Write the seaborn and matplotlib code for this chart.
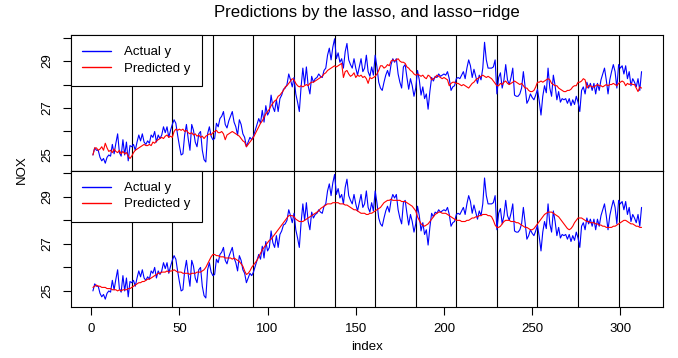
import numpy as np
import pandas as pd
import matplotlib
matplotlib.use("Agg")
import matplotlib.pyplot as plt
from matplotlib.lines import Line2D
import seaborn as sns

# Observed NOX series (index 1..312)
actual_y = [
    25.0, 25.3, 25.2, 25.2, 24.9, 24.75, 24.85, 24.65, 24.9, 25.0, 24.95, 25.45, 25.05, 25.5, 25.9, 25.1, 24.95, 25.65, 25.0, 25.55, 24.75, 25.4, 25.35,
    25.45, 25.2, 25.55, 25.85, 25.6, 25.9, 25.55, 25.45, 25.6, 25.5, 25.85, 25.75, 26.0, 25.55, 25.85, 25.7, 25.85, 26.2, 25.95, 26.2, 25.75, 26.05, 26.3,
    26.5, 26.35, 25.85, 25.4, 25.0, 25.05, 25.85, 26.3, 25.7, 25.2, 26.3, 26.05, 25.55, 25.35, 25.9, 26.0, 25.2, 24.8, 24.7, 25.9, 26.2, 25.8, 25.65,
    25.7, 26.35, 26.2, 26.55, 26.65, 26.85, 26.3, 26.15, 26.45, 26.65, 26.85, 26.4, 26.2, 25.85, 26.5, 26.3, 25.9, 25.75, 25.35, 25.55, 25.75, 25.65, 25.8,
    26.05, 26.3, 26.55, 26.35, 26.9, 26.4, 27.1, 26.7, 26.85, 27.55, 27.05, 26.85, 27.35, 26.85, 27.4, 27.55, 27.8, 27.85, 28.0, 28.45, 28.2, 27.9, 28.3,
    27.6, 27.25, 26.85, 27.9, 28.7, 28.0, 28.75, 27.95, 27.6, 28.35, 28.1, 28.25, 28.3, 28.45, 28.35, 28.3, 28.6, 28.7, 29.25, 29.55, 29.05, 29.6, 29.95,
    29.1, 29.35, 28.95, 29.1, 28.7, 29.4, 29.75, 29.05, 28.85, 28.7, 29.1, 28.7, 28.4, 28.75, 29.1, 28.55, 28.7, 29.25, 28.55, 28.35, 28.75, 28.4, 29.25,
    28.75, 28.1, 27.85, 27.75, 28.1, 28.4, 28.6, 28.35, 28.85, 29.1, 28.95, 29.1, 28.45, 28.1, 27.85, 28.75, 28.85, 28.3, 27.8, 28.25, 27.95, 27.5, 27.85,
    28.6, 28.2, 27.55, 27.9, 27.4, 27.6, 26.95, 27.7, 28.3, 28.15, 28.35, 28.3, 28.45, 28.35, 28.4, 28.45, 28.4, 28.55, 28.25, 27.75, 27.9, 27.95, 28.25,
    28.3, 28.25, 28.4, 28.55, 28.25, 28.7, 29.05, 28.8, 28.3, 28.65, 28.35, 28.05, 28.4, 28.2, 28.7, 29.8, 29.05, 28.7, 28.7, 28.7, 28.75, 29.05, 27.6,
    28.3, 28.5, 27.85, 28.2, 28.85, 28.2, 28.0, 28.3, 28.7, 27.55, 27.5, 27.5, 27.6, 27.85, 28.55, 27.9, 27.2, 27.35, 27.6, 27.45, 27.35, 27.55, 27.8,
    27.3, 26.7, 27.5, 27.95, 27.65, 28.7, 27.85, 27.5, 28.4, 27.95, 27.35, 27.7, 27.25, 27.4, 27.35, 27.4, 27.2, 27.4, 27.1, 27.35, 27.15, 27.5, 27.25,
    26.85, 27.75, 27.9, 27.6, 28.1, 27.85, 28.05, 27.75, 28.05, 27.6, 28.05, 27.75, 28.2, 28.45, 28.7, 28.2, 27.6, 28.2, 28.55, 28.85, 28.55, 27.85, 28.85,
    28.7, 28.8, 28.45, 28.8, 28.25, 28.55, 27.95, 28.25, 28.1, 27.9, 28.25, 27.75, 28.55,
]

# Fitted values from the lasso
pred_lasso = [
    25.0, 25.3, 25.3, 25.2, 25.25, 25.35, 25.2, 25.5, 25.3, 25.15, 25.2, 25.1, 25.25, 25.15, 25.1, 25.2, 25.05, 25.15, 25.05, 25.1, 24.95, 24.85, 24.95,
    25.1, 25.2, 25.25, 25.3, 25.35, 25.4, 25.45, 25.4, 25.4, 25.45, 25.4, 25.55, 25.5, 25.6, 25.65, 25.7, 25.75, 25.7, 25.8, 25.85, 25.75, 25.8, 25.75,
    26.0, 26.1, 26.05, 26.1, 26.05, 26.1, 26.0, 26.05, 25.95, 25.9, 25.95, 25.85, 25.9, 25.8, 25.85, 25.75, 25.8, 25.7, 25.8, 25.85, 25.9, 25.85, 25.95,
    26.0, 26.05, 25.95, 25.95, 26.0, 25.9, 25.65, 25.85, 25.9, 25.95, 26.0, 25.95, 25.9, 25.85, 25.8, 25.7, 25.6, 25.55, 25.35, 25.45, 25.55, 25.65, 25.75,
    25.9, 26.05, 26.2, 26.35, 26.45, 26.6, 26.75, 26.85, 26.95, 27.1, 27.2, 27.3, 27.35, 27.5, 27.55, 27.65, 27.75, 27.9, 27.95, 28.05, 28.15, 28.25, 28.2,
    28.05, 27.95, 27.9, 27.95, 27.9, 27.95, 28.0, 27.95, 28.05, 28.1, 28.1, 28.15, 28.2, 28.25, 28.3, 28.35, 28.45, 28.5, 28.6, 28.65, 28.7, 28.75, 28.8,
    28.75, 28.8, 28.85, 28.9, 28.3, 28.55, 28.6, 28.45, 28.35, 28.4, 28.5, 28.3, 28.4, 28.35, 28.4, 28.3, 28.35, 28.25, 28.05, 28.3, 28.25, 28.3, 28.35,
    28.45, 28.6, 28.8, 28.8, 28.7, 28.75, 28.85, 28.8, 29.0, 29.05, 29.0, 29.05, 29.1, 29.0, 28.95, 28.95, 28.9, 28.75, 28.7, 28.6, 28.55, 28.45, 28.4,
    28.45, 28.4, 28.35, 28.4, 28.3, 28.25, 28.4, 28.35, 28.2, 28.25, 28.3, 28.4, 28.35, 28.3, 28.25, 28.3, 28.25, 28.2, 27.95, 28.05, 28.1, 28.1, 28.05,
    28.05, 28.0, 27.95, 28.0, 27.95, 27.9, 27.85, 27.95, 28.05, 28.1, 28.2, 28.25, 28.3, 28.35, 28.4, 28.35, 28.3, 28.35, 28.3, 28.25, 28.15, 28.05, 27.95,
    27.95, 28.05, 28.0, 28.1, 28.15, 28.05, 28.0, 28.05, 28.1, 28.15, 28.1, 28.05, 28.0, 28.05, 27.95, 27.85, 27.85, 27.75, 27.7, 27.7, 27.75, 27.9, 28.1,
    28.1, 28.15, 28.1, 28.15, 28.2, 28.25, 28.2, 28.05, 28.0, 27.95, 27.95, 27.85, 27.8, 27.75, 27.7, 27.7, 27.75, 27.75, 27.8, 27.9, 27.95, 27.95, 28.1,
    28.1, 28.15, 28.25, 28.2, 27.85, 27.95, 27.95, 27.9, 27.9, 27.95, 28.0, 27.95, 27.95, 27.9, 27.95, 28.0, 27.95, 28.0, 28.0, 28.05, 28.0, 27.95, 28.05,
    28.1, 28.15, 28.1, 27.95, 28.05, 28.0, 28.05, 28.0, 28.0, 27.85, 27.7, 27.9, 27.85,
]

# Fitted values from the lasso-ridge combination
pred_lasso_ridge = [
    25.15, 25.2, 25.25, 25.2, 25.2, 25.15, 25.15, 25.15, 25.1, 25.1, 25.1, 25.05, 25.05, 25.05, 25.0, 25.05, 25.0, 25.05, 25.05, 25.05, 25.1, 25.1, 25.15,
    25.2, 25.25, 25.3, 25.35, 25.35, 25.4, 25.4, 25.45, 25.5, 25.5, 25.55, 25.6, 25.65, 25.7, 25.75, 25.75, 25.8, 25.8, 25.8, 25.85, 25.8, 25.85, 25.85,
    25.9, 25.85, 25.8, 25.8, 25.8, 25.75, 25.75, 25.75, 25.75, 25.7, 25.75, 25.75, 25.75, 25.8, 25.8, 25.8, 25.85, 25.9, 26.0, 26.15, 26.3, 26.45, 26.55,
    26.55, 26.5, 26.5, 26.45, 26.45, 26.45, 26.4, 26.4, 26.4, 26.4, 26.35, 26.4, 26.35, 26.3, 26.25, 26.15, 26.05, 25.85, 25.7, 25.75, 25.85, 26.0, 26.1,
    26.2, 26.3, 26.45, 26.6, 26.75, 26.85, 26.95, 27.05, 27.15, 27.2, 27.3, 27.4, 27.5, 27.6, 27.7, 27.8, 27.9, 28.0, 28.1, 28.2, 28.2, 28.2, 28.15,
    28.05, 28.0, 27.95, 27.95, 27.95, 28.0, 28.05, 28.1, 28.15, 28.2, 28.25, 28.3, 28.35, 28.4, 28.5, 28.55, 28.6, 28.65, 28.7, 28.7, 28.7, 28.75, 28.75,
    28.75, 28.75, 28.7, 28.7, 28.7, 28.65, 28.65, 28.6, 28.55, 28.5, 28.45, 28.45, 28.4, 28.35, 28.3, 28.3, 28.3, 28.25, 28.25, 28.3, 28.3, 28.35, 28.4,
    28.45, 28.5, 28.55, 28.65, 28.75, 28.8, 28.85, 28.85, 28.9, 28.85, 28.85, 28.85, 28.85, 28.85, 28.8, 28.8, 28.8, 28.75, 28.7, 28.65, 28.6, 28.5, 28.4,
    28.15, 28.0, 27.85, 27.8, 27.75, 27.8, 27.85, 27.95, 28.05, 28.15, 28.25, 28.3, 28.35, 28.35, 28.3, 28.3, 28.3, 28.25, 28.2, 28.15, 28.1, 28.05, 28.0,
    28.0, 28.0, 27.95, 27.95, 27.95, 28.0, 28.0, 28.05, 28.1, 28.1, 28.15, 28.15, 28.2, 28.2, 28.25, 28.25, 28.25, 28.2, 28.2, 28.15, 28.0, 27.8, 27.7,
    27.7, 27.75, 27.85, 27.95, 28.0, 28.0, 28.0, 27.95, 27.95, 27.95, 27.9, 27.9, 27.85, 27.8, 27.75, 27.7, 27.7, 27.65, 27.6, 27.6, 27.65, 27.75, 27.85,
    27.95, 28.05, 28.15, 28.25, 28.3, 28.35, 28.35, 28.35, 28.3, 28.25, 28.2, 28.15, 28.05, 27.95, 27.85, 27.75, 27.65, 27.6, 27.65, 27.75, 27.9, 28.0, 28.1,
    28.1, 28.1, 28.05, 28.0, 27.95, 27.95, 27.9, 27.9, 27.9, 27.85, 27.85, 27.8, 27.8, 27.75, 27.75, 27.7, 27.7, 27.7, 27.7, 27.75, 27.75, 27.8, 27.85,
    27.9, 27.95, 28.0, 28.0, 27.95, 27.9, 27.85, 27.85, 27.8, 27.75, 27.75, 27.7, 27.7,
]

# Boundaries between the cross-validation blocks
fold_edges = [23, 46, 69, 92, 115, 138, 161, 184, 207, 230, 253, 276, 299]

x_ticks = [0, 50, 100, 150, 200, 250, 300]
y_ticks = [25, 26, 27, 28, 29, 30]
y_ticklabels = ["25", "", "27", "", "29", ""]

title_text = "Predictions by the lasso, and lasso\u2212ridge"
legend_labels = ["Actual y", "Predicted y"]

sns.set_theme(style="white")
plt.rcParams["font.family"] = ["Liberation Sans", "DejaVu Sans"]
plt.rcParams.update({
    "axes.edgecolor": "black",
    "axes.linewidth": 0.8,
    "text.color": "black",
    "axes.labelcolor": "black",
    "xtick.color": "black",
    "ytick.color": "black",
})

FS = 9.5
colors = {"Actual y": "#0000FF", "Predicted y": "#FF0000"}
LW = 0.8
LEG_LW = 1.0

fig = plt.figure(figsize=(6.78, 3.58), dpi=100)
ax_top = fig.add_axes([0.1047, 0.5232, 0.8739, 0.3790])
ax_bot = fig.add_axes([0.1047, 0.1433, 0.8739, 0.3799])

index = np.arange(1, len(actual_y) + 1)

for ax, pred in ((ax_top, pred_lasso), (ax_bot, pred_lasso_ridge)):
    df = pd.DataFrame({"index": index, "Actual y": actual_y, "Predicted y": pred})
    long = df.melt(id_vars="index", var_name="series", value_name="NOX")
    sns.lineplot(data=long, x="index", y="NOX", hue="series", hue_order=legend_labels,
                 palette=colors, estimator=None, linewidth=LW, ax=ax, legend=False,
                 zorder=3)
    for edge in fold_edges:
        ax.axvline(edge, color="black", linewidth=0.8, zorder=2)
    ax.set_xlim(-11.44, 324.44)
    ax.set_ylim(24.33, 30.11)
    ax.set_yticks(y_ticks)
    ax.set_yticklabels(y_ticklabels, rotation=90, va="center", fontsize=FS)
    ax.set_xlabel("")
    ax.set_ylabel("")
    for s in ax.spines.values():
        s.set_color("black")
        s.set_linewidth(0.8)
    handles = [Line2D([], [], color=colors[k], linewidth=LEG_LW) for k in legend_labels]
    leg = ax.legend(handles, legend_labels, loc="upper left", fontsize=FS,
                    frameon=True, fancybox=False, framealpha=1.0, edgecolor="black",
                    borderaxespad=0.0, borderpad=0.85, labelspacing=0.3,
                    handlelength=2.2, handletextpad=1.0)
    leg.get_frame().set_linewidth(0.8)
    leg.set_zorder(5)

for ax in (ax_top, ax_bot):
    ax.tick_params(axis="y", direction="out", length=6, width=0.8, pad=7, left=True)
ax_top.tick_params(axis="x", bottom=False, labelbottom=False)
ax_bot.set_xticks(x_ticks)
ax_bot.set_xticklabels([str(t) for t in x_ticks], fontsize=FS)
ax_bot.tick_params(axis="x", direction="out", length=6, width=0.8, pad=6, bottom=True)

fig.text(0.5413, 1 - 12 / 358, title_text, ha="center", va="center", fontsize=12.1)
fig.text(0.5413, 1 - 347 / 358, "index", ha="center", va="center", fontsize=FS)
fig.text(22 / 678, 1 - 170 / 358, "NOX", ha="center", va="center", rotation=90, fontsize=FS)

fig.savefig("out.png", dpi=100, facecolor="white")
